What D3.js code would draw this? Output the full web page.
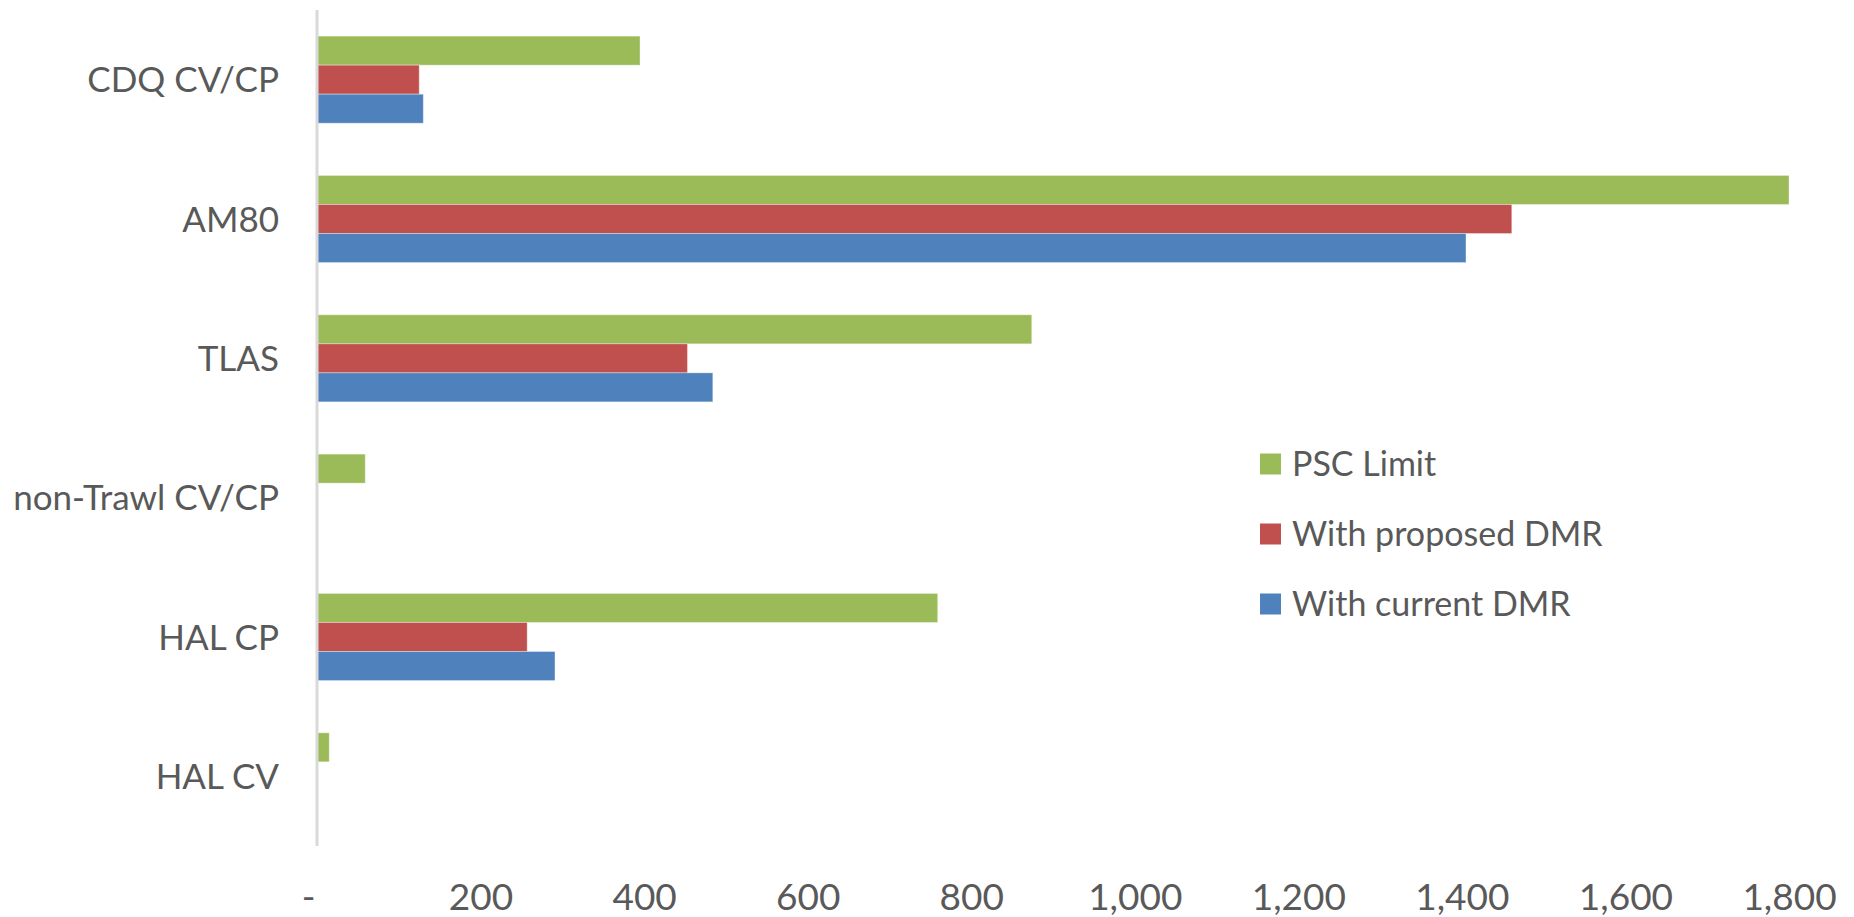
<!DOCTYPE html>
<html>
<head>
<meta charset="utf-8">
<script src="https://cdn.jsdelivr.net/npm/d3@7/dist/d3.min.js"></script>
<style>
  html, body { margin: 0; padding: 0; background: #fff; overflow: hidden; }
  text { font-family: Lato, "Open Sans", sans-serif; fill: #595959; }
</style>
</head>
<body>
<svg id="chart" width="1854" height="917"></svg>
<script>
const categories = ["CDQ CV/CP", "AM80", "TLAS", "non-Trawl CV/CP", "HAL CP", "HAL CV"];
const seriesNames = ["PSC Limit", "With proposed DMR", "With current DMR"];
const pscLimit = [395, 1800, 874, 59, 759, 15];
const proposedDMR = [125, 1461, 453, 0, 257, 0];
const currentDMR = [130, 1405, 484, 0, 291, 0];
const xTicks = [0, 200, 400, 600, 800, 1000, 1200, 1400, 1600, 1800];
const seriesColors = ["#9BBB59", "#C0504D", "#4F81BD"];

const seriesValues = [pscLimit, proposedDMR, currentDMR];
const svg = d3.select("#chart");

const x = d3.scaleLinear().domain([0, 1800]).range([317, 1789]);
const y = d3.scaleBand().domain(categories).range([10, 846])
  .paddingInner(0.375).paddingOuter(0.1875);
const ySub = d3.scaleBand().domain(seriesNames).range([0, y.bandwidth()]);
const color = d3.scaleOrdinal().domain(seriesNames).range(seriesColors);

const rows = [];
categories.forEach((c, i) => {
  seriesNames.forEach((s, j) => {
    rows.push({ cat: c, series: s, value: seriesValues[j][i] });
  });
});

// bars
svg.append("g").selectAll("rect").data(rows.filter(d => d.value > 0)).join("rect")
  .attr("x", x(0))
  .attr("y", d => y(d.cat) + ySub(d.series))
  .attr("width", d => x(d.value) - x(0))
  .attr("height", ySub.bandwidth())
  .attr("fill", d => color(d.series))
  .attr("stroke", "rgba(255,255,255,0.35)")
  .attr("stroke-width", 1);

// vertical axis line
svg.append("line")
  .attr("x1", x(0)).attr("x2", x(0))
  .attr("y1", 10).attr("y2", 846)
  .attr("stroke", "#d9d9d9").attr("stroke-width", 3);

// category labels
const yAxis = d3.axisLeft(y).tickSize(0).tickPadding(0);
const gy = svg.append("g").attr("transform", "translate(279,0)").call(yAxis);
gy.select(".domain").remove();
gy.selectAll("text")
  .style("font-family", "Lato, 'Open Sans', sans-serif")
  .attr("font-size", 35).attr("fill", "#595959").attr("dy", "0.36em");

// x tick labels
const fmt = d3.format(",");
const xAxis = d3.axisBottom(x).tickValues(xTicks).tickSize(0).tickPadding(0)
  .tickFormat(d => d === 0 ? "-" : fmt(d));
const gx = svg.append("g").attr("transform", "translate(0,884)").call(xAxis);
gx.select(".domain").remove();
gx.selectAll("text")
  .style("font-family", "Lato, 'Open Sans', sans-serif")
  .attr("font-size", 37).attr("fill", "#595959").attr("dy", "0.71em")
  .attr("dx", d => d === 0 ? -9 : 0);

// legend
const legendY = d3.scalePoint().domain(seriesNames).range([464, 604]);
const lg = svg.append("g").selectAll("g").data(seriesNames).join("g")
  .attr("transform", d => `translate(1260,${legendY(d)})`);
lg.append("rect").attr("x", 0).attr("y", -10.5).attr("width", 21).attr("height", 21)
  .attr("fill", d => color(d));
lg.append("text").attr("x", 32).attr("y", 0).attr("dy", "0.36em")
  .attr("font-size", 34).text(d => d);
</script>
</body>
</html>
